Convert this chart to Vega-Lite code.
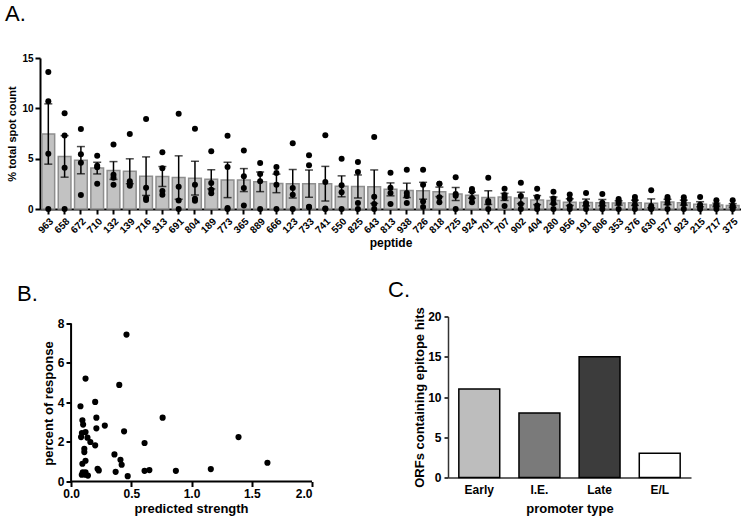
{
  "$schema": "https://vega.github.io/schema/vega-lite/v6.json",
  "padding": {"left": 5, "top": 3, "right": 0, "bottom": 0},
  "background": "white",
  "config": {
    "font": "Liberation Sans",
    "view": {"stroke": null},
    "axis": {"domainColor": "black", "domainWidth": 2, "tickColor": "black", "tickWidth": 2, "tickSize": 5, "labelColor": "black", "labelFontWeight": "bold", "labelFont": "Liberation Sans", "titleFont": "Liberation Sans", "titleFontWeight": "bold", "titleColor": "black", "grid": false, "labelPadding": 2},
    "title": {"font": "Liberation Sans", "fontSize": 22, "fontWeight": "normal", "anchor": "start", "frame": "group", "color": "black"}
  },
  "datasets": {
    "peptides": [
      {"peptide":"963","v":13.6},{"peptide":"963","v":10.7},{"peptide":"963","v":5.5},{"peptide":"963","v":0},
      {"peptide":"658","v":9.5},{"peptide":"658","v":7.3},{"peptide":"658","v":4.1},{"peptide":"658","v":0},
      {"peptide":"672","v":7.95},{"peptide":"672","v":5.45},{"peptide":"672","v":4.6},{"peptide":"672","v":1.4},
      {"peptide":"710","v":5.3},{"peptide":"710","v":4.3},{"peptide":"710","v":4.15},{"peptide":"710","v":2.5},
      {"peptide":"132","v":6.4},{"peptide":"132","v":3.4},{"peptide":"132","v":3.1},{"peptide":"132","v":2.4},
      {"peptide":"139","v":7.45},{"peptide":"139","v":2.75},{"peptide":"139","v":2.5},{"peptide":"139","v":2.3},
      {"peptide":"716","v":8.95},{"peptide":"716","v":2.1},{"peptide":"716","v":1.1},{"peptide":"716","v":0.9},
      {"peptide":"313","v":5.63},{"peptide":"313","v":4.05},{"peptide":"313","v":1.8},{"peptide":"313","v":1.42},
      {"peptide":"691","v":9.45},{"peptide":"691","v":2.2},{"peptide":"691","v":0.85},{"peptide":"691","v":0},
      {"peptide":"804","v":7.98},{"peptide":"804","v":2.42},{"peptide":"804","v":1.03},{"peptide":"804","v":0.83},
      {"peptide":"189","v":5.73},{"peptide":"189","v":2.58},{"peptide":"189","v":1.92},{"peptide":"189","v":1.56},
      {"peptide":"773","v":7.28},{"peptide":"773","v":4.17},{"peptide":"773","v":0.1},{"peptide":"773","v":0},
      {"peptide":"365","v":5.8},{"peptide":"365","v":3.25},{"peptide":"365","v":2.08},{"peptide":"365","v":0.36},
      {"peptide":"889","v":4.57},{"peptide":"889","v":3.48},{"peptide":"889","v":2.75},{"peptide":"889","v":0},
      {"peptide":"666","v":4.17},{"peptide":"666","v":3.58},{"peptide":"666","v":2.42},{"peptide":"666","v":0},
      {"peptide":"123","v":6.52},{"peptide":"123","v":2.08},{"peptide":"123","v":1.42},{"peptide":"123","v":0},
      {"peptide":"733","v":5.33},{"peptide":"733","v":4.34},{"peptide":"733","v":0.23},{"peptide":"733","v":0.17},
      {"peptide":"741","v":7.32},{"peptide":"741","v":2.68},{"peptide":"741","v":0.05},{"peptide":"741","v":0},
      {"peptide":"550","v":5.0},{"peptide":"550","v":2.35},{"peptide":"550","v":1.66},{"peptide":"550","v":0},
      {"peptide":"825","v":4.67},{"peptide":"825","v":3.68},{"peptide":"825","v":0.6},{"peptide":"825","v":0},
      {"peptide":"643","v":7.15},{"peptide":"643","v":1.22},{"peptide":"643","v":0.5},{"peptide":"643","v":0},
      {"peptide":"813","v":3.6},{"peptide":"813","v":2.1},{"peptide":"813","v":1.6},{"peptide":"813","v":0.5},
      {"peptide":"938","v":3.9},{"peptide":"938","v":1.6},{"peptide":"938","v":1.3},{"peptide":"938","v":0.6},
      {"peptide":"726","v":3.9},{"peptide":"726","v":2.4},{"peptide":"726","v":0.75},{"peptide":"726","v":0.2},
      {"peptide":"818","v":2.5},{"peptide":"818","v":2.5},{"peptide":"818","v":1.16},{"peptide":"818","v":0.66},
      {"peptide":"725","v":3.15},{"peptide":"725","v":1.49},{"peptide":"725","v":1.32},{"peptide":"725","v":0},
      {"peptide":"924","v":1.99},{"peptide":"924","v":1.75},{"peptide":"924","v":1.09},{"peptide":"924","v":0.66},
      {"peptide":"701","v":3.1},{"peptide":"701","v":0.8},{"peptide":"701","v":0.63},{"peptide":"701","v":0},
      {"peptide":"707","v":2.0},{"peptide":"707","v":1.4},{"peptide":"707","v":1.1},{"peptide":"707","v":0.3},
      {"peptide":"902","v":2.6},{"peptide":"902","v":1.3},{"peptide":"902","v":0.5},{"peptide":"902","v":0},
      {"peptide":"404","v":2.0},{"peptide":"404","v":1.19},{"peptide":"404","v":0.35},{"peptide":"404","v":0},
      {"peptide":"280","v":1.72},{"peptide":"280","v":1.05},{"peptide":"280","v":0.57},{"peptide":"280","v":0},
      {"peptide":"956","v":1.45},{"peptide":"956","v":1.0},{"peptide":"956","v":0.28},{"peptide":"956","v":0},
      {"peptide":"191","v":1.59},{"peptide":"191","v":0.6},{"peptide":"191","v":0.4},{"peptide":"191","v":0},
      {"peptide":"806","v":1.49},{"peptide":"806","v":0.63},{"peptide":"806","v":0.4},{"peptide":"806","v":0},
      {"peptide":"353","v":1.0},{"peptide":"353","v":0.8},{"peptide":"353","v":0.6},{"peptide":"353","v":0},
      {"peptide":"376","v":1.19},{"peptide":"376","v":0.86},{"peptide":"376","v":0.43},{"peptide":"376","v":0},
      {"peptide":"630","v":1.87},{"peptide":"630","v":0.3},{"peptide":"630","v":0.08},{"peptide":"630","v":0},
      {"peptide":"577","v":1.19},{"peptide":"577","v":1.0},{"peptide":"577","v":0.6},{"peptide":"577","v":0},
      {"peptide":"923","v":1.16},{"peptide":"923","v":0.86},{"peptide":"923","v":0.5},{"peptide":"923","v":0},
      {"peptide":"215","v":1.19},{"peptide":"215","v":0.43},{"peptide":"215","v":0.26},{"peptide":"215","v":0},
      {"peptide":"717","v":0.86},{"peptide":"717","v":0.43},{"peptide":"717","v":0.33},{"peptide":"717","v":0},
      {"peptide":"375","v":0.86},{"peptide":"375","v":0.33},{"peptide":"375","v":0.2},{"peptide":"375","v":0}
    ],
    "scatter": [
      {"strength":0.46,"response":7.44},{"strength":0.12,"response":5.21},{"strength":0.40,"response":4.89},
      {"strength":0.20,"response":4.03},{"strength":0.078,"response":3.81},{"strength":0.21,"response":3.23},
      {"strength":0.76,"response":3.23},{"strength":0.094,"response":3.10},{"strength":0.10,"response":2.88},
      {"strength":0.28,"response":2.83},{"strength":0.21,"response":2.69},{"strength":0.44,"response":2.54},
      {"strength":0.12,"response":2.50},{"strength":0.09,"response":2.45},{"strength":0.083,"response":2.25},
      {"strength":0.136,"response":2.22},{"strength":1.39,"response":2.25},{"strength":0.16,"response":2.0},
      {"strength":0.20,"response":1.83},{"strength":0.61,"response":1.95},{"strength":0.11,"response":1.66},
      {"strength":0.11,"response":1.49},{"strength":0.36,"response":1.37},{"strength":0.41,"response":1.10},
      {"strength":0.12,"response":1.05},{"strength":0.42,"response":0.85},{"strength":0.094,"response":0.90},
      {"strength":1.63,"response":0.95},{"strength":0.22,"response":0.64},{"strength":0.23,"response":0.56},
      {"strength":1.16,"response":0.63},{"strength":0.61,"response":0.54},{"strength":0.65,"response":0.58},
      {"strength":0.87,"response":0.54},{"strength":0.37,"response":0.49},{"strength":0.097,"response":0.46},
      {"strength":0.12,"response":0.47},{"strength":0.089,"response":0.34},{"strength":0.14,"response":0.30},
      {"strength":0.47,"response":0.27},{"strength":0.12,"response":0.34}
    ],
    "promoter": [
      {"type":"Early","count":11},{"type":"I.E.","count":8},{"type":"Late","count":15},{"type":"E/L","count":3}
    ],
    "axislines": [
      {"x0": 0, "x1": 2, "y0": 0, "y1": 0},
      {"x0": 0, "x1": 0, "y0": 0, "y1": 8}
    ]
  },
  "spacing": 29.5,
  "vconcat": [
    {
      "width": 701,
      "height": 151,
      "title": {"text": "A.", "dx": -35, "offset": 27},
      "data": {"name": "peptides"},
      "encoding": {
        "x": {"field": "peptide", "type": "nominal", "sort": null,
              "scale": {"paddingInner": 0.22, "paddingOuter": 0.12},
              "axis": {"labelAngle": -45, "labelFontSize": 10, "title": "peptide", "titleFontSize": 12, "titlePadding": 3}}
      },
      "layer": [
        {
          "mark": {"type": "bar", "fill": "#c2c2c2", "stroke": "#8e8e8e", "strokeWidth": 1.5},
          "encoding": {
            "y": {"aggregate": "mean", "field": "v", "type": "quantitative", "title": "% total spot count",
                  "scale": {"domain": [0, 15], "nice": false},
                  "axis": {"values": [0, 5, 10, 15], "titleFontSize": 11, "labelFontSize": 10, "titlePadding": 4}}
          }
        },
        {
          "mark": {"type": "errorbar", "extent": "stderr", "color": "black", "ticks": {"size": 8, "thickness": 1.5, "color": "black"}, "rule": {"strokeWidth": 1.5, "color": "black"}},
          "encoding": {"y": {"field": "v", "type": "quantitative", "title": "% total spot count"}}
        },
        {
          "mark": {"type": "circle", "size": 36, "color": "black", "opacity": 1},
          "encoding": {"y": {"field": "v", "type": "quantitative", "title": "% total spot count"}}
        }
      ]
    },
    {
      "spacing": 75,
      "hconcat": [
        {
          "width": 272,
          "height": 165,
          "title": {"text": "B.", "dx": -23, "offset": 10.5},
          "layer": [
            {
              "data": {"name": "axislines"},
              "mark": {"type": "rule", "color": "black", "strokeWidth": 2},
              "encoding": {
                "x": {"field": "x0", "type": "quantitative"},
                "x2": {"field": "x1"},
                "y": {"field": "y0", "type": "quantitative"},
                "y2": {"field": "y1"}
              }
            },
            {
              "data": {"name": "scatter"},
              "mark": {"type": "circle", "size": 38, "color": "black", "opacity": 1},
              "encoding": {
                "x": {"field": "strength", "type": "quantitative", "title": "predicted strength",
                      "scale": {"domain": [-0.258, 2], "nice": false, "zero": false},
                      "axis": {"values": [0, 0.5, 1, 1.5, 2], "format": ".1f", "domain": false, "titleFontSize": 13, "labelFontSize": 12, "titlePadding": 3, "titleX": 151}},
                "y": {"field": "response", "type": "quantitative", "title": "percent of response",
                      "scale": {"domain": [0, 8.354], "nice": false},
                      "axis": {"values": [0, 2, 4, 6, 8], "domain": false, "offset": -31, "titleFontSize": 13, "labelFontSize": 12, "titlePadding": 2, "titleY": 86.5}}
              }
            }
          ]
        },
        {
          "width": 243,
          "height": 161,
          "title": {"text": "C.", "dx": -60, "offset": 4.5},
          "data": {"name": "promoter"},
          "mark": {"type": "bar", "stroke": "black", "strokeWidth": 1.5},
          "encoding": {
            "x": {"field": "type", "type": "nominal", "sort": null, "title": "promoter type",
                  "scale": {"paddingInner": 0.32, "paddingOuter": 0.18},
                  "axis": {"labelAngle": 0, "ticks": false, "labelPadding": 7, "titleFontSize": 13, "labelFontSize": 12, "titlePadding": 7, "domainWidth": 1.5, "domainColor": "#333333"}},
            "y": {"field": "count", "type": "quantitative", "title": "ORFs containing epitope hits",
                  "scale": {"domain": [0, 20], "nice": false},
                  "axis": {"values": [0, 5, 10, 15, 20], "titleFontSize": 13, "labelFontSize": 12, "titlePadding": 1, "tickSize": 4, "tickWidth": 1.5, "domainWidth": 1.5, "domainColor": "#333333", "labelPadding": 3}},
            "color": {"field": "type", "type": "nominal", "legend": null,
                      "scale": {"domain": ["Early", "I.E.", "Late", "E/L"], "range": ["#bdbdbd", "#7a7a7a", "#3c3c3c", "#ffffff"]}}
          }
        }
      ]
    }
  ]
}
